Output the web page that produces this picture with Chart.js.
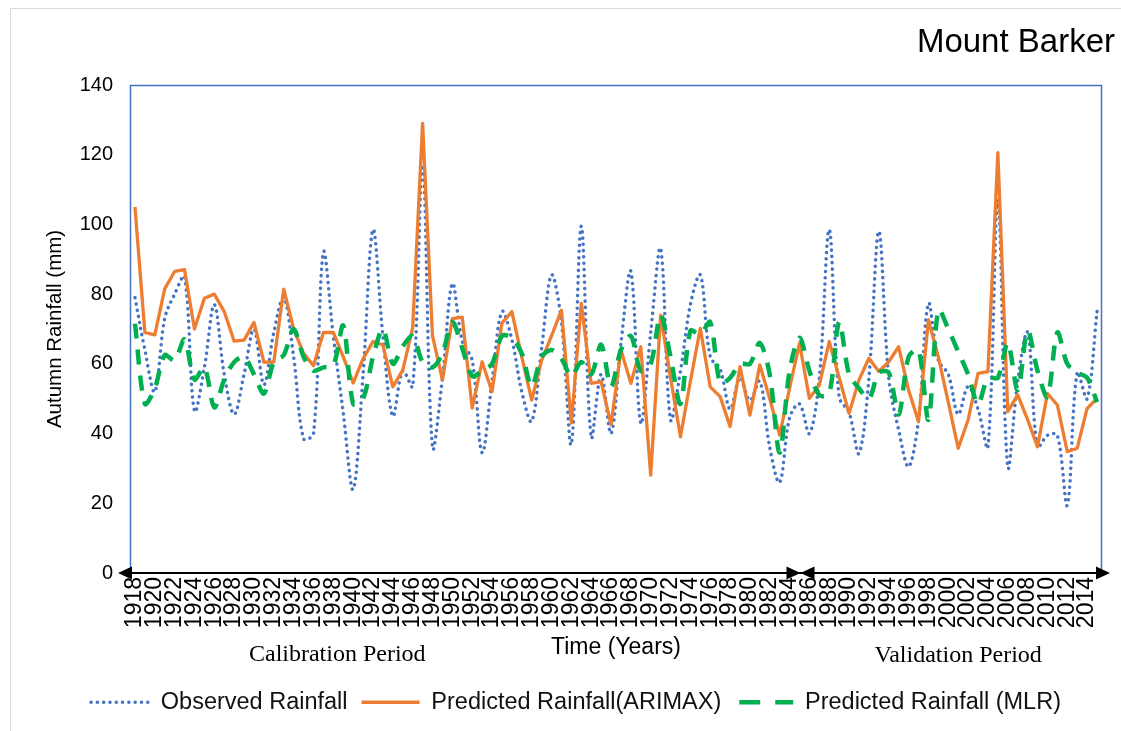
<!DOCTYPE html>
<html>
<head>
<meta charset="utf-8">
<title>Mount Barker</title>
<script src="https://cdn.jsdelivr.net/npm/chart.js@4.4.1/dist/chart.umd.min.js"></script>
<style>
  html, body { margin: 0; padding: 0; background: #fff; }
  #wrap { width: 1121px; height: 731px; position: relative; }
  canvas { display: block; }
</style>
</head>
<body>
<div id="wrap"><canvas id="c" width="1121" height="731"></canvas></div>
<script>
// Autumn rainfall at Mount Barker, 1918-2015
const years = [
  '1918','1919','1920','1921','1922','1923','1924','1925','1926','1927',
  '1928','1929','1930','1931','1932','1933','1934','1935','1936','1937',
  '1938','1939','1940','1941','1942','1943','1944','1945','1946','1947',
  '1948','1949','1950','1951','1952','1953','1954','1955','1956','1957',
  '1958','1959','1960','1961','1962','1963','1964','1965','1966','1967',
  '1968','1969','1970','1971','1972','1973','1974','1975','1976','1977',
  '1978','1979','1980','1981','1982','1983','1984','1985','1986','1987',
  '1988','1989','1990','1991','1992','1993','1994','1995','1996','1997',
  '1998','1999','2000','2001','2002','2003','2004','2005','2006','2007',
  '2008','2009','2010','2011','2012','2013','2014','2015'
];

// Observed autumn rainfall (mm)
const observed = [
  79, 64, 52, 73, 80, 85, 46.5, 59, 77, 57,
  45.5, 57, 70, 54, 69, 79, 62, 38.5, 40, 92,
  68, 46, 24, 57, 98.5, 68, 45, 58, 53.5, 117,
  36, 56, 83, 66.5, 61, 34.5, 55, 75, 67, 52,
  43.5, 64.5, 85.5, 72, 37, 99.5, 39, 57, 40, 66,
  86.5, 43, 69, 93, 44, 58, 77, 85.5, 62, 58.5,
  47, 56, 49.5, 55, 36, 26, 44.5, 48.5, 40, 56,
  98.5, 50.5, 46, 34.3, 56, 98, 56, 41, 30.5, 44,
  77.3, 61, 57, 45.5, 53.5, 47, 36.2, 107, 30.5, 55,
  69, 36.2, 39.5, 39.5, 19.5, 57.5, 50, 75
];

// ARIMAX model prediction (mm)
const arimax = [
  105, 69, 68.3, 81.5, 86.5, 87, 70, 78.8, 80, 75,
  66.5, 66.8, 71.9, 60.5, 60.5, 81.4, 70, 63, 59.5, 69,
  69, 62, 54.5, 61.5, 66.4, 65.4, 53.4, 58.2, 70.3, 129,
  68, 55.4, 73, 73.4, 47.3, 60.6, 52, 71.7, 75, 62,
  49.6, 61, 68, 75.4, 43, 77.4, 54.4, 54.9, 42.5, 64,
  54.4, 64.9, 28.1, 74, 56, 39.1, 55, 70.2, 53.4, 50.6,
  42, 59.2, 45.3, 59.7, 50, 39.6, 53, 65.9, 50.1, 53.9,
  66.4, 56, 45.8, 55.4, 61.6, 57.8, 60.6, 64.9, 52.5, 43.4,
  72.6, 62, 49, 35.8, 43.9, 57.3, 57.8, 120.6, 46.3, 51.1,
  44, 36.2, 51.5, 48.2, 34.8, 35.8, 47.2, 50.1
];

// MLR model prediction (mm)
const mlr = [
  71.5, 48.5, 53, 62.5, 61, 67, 55.5, 59, 47.5, 55.5,
  60.5, 62, 57, 51.5, 60.5, 62.5, 70, 62, 58, 59,
  59.5, 71, 48.5, 50, 62, 70, 60, 65, 68, 60.5,
  59, 63, 72, 64.5, 56.5, 58, 60, 68, 67.5, 63,
  53.5, 62, 64, 61.5, 56.5, 60.5, 57, 65.5, 53.5, 64,
  68, 58, 60, 74, 62, 48.5, 69.5, 68.5, 72, 54.5,
  56, 60, 60, 66, 57, 34.5, 58, 67.5, 58, 51,
  51.5, 72, 57, 53, 50, 57.5, 57.5, 45.5, 62, 64,
  44, 75.5, 70, 63.5, 57, 48.5, 56, 56, 66, 52.5,
  69.5, 58, 50.5, 69, 60, 57.5, 56, 49
];

const seriesNames = ['Observed Rainfall', 'Predicted Rainfall(ARIMAX)', 'Predicted Rainfall (MLR)'];
const chartTitle = 'Mount Barker';
const periodLabels = ['Calibration Period', 'Validation Period'];
const axisTitles = { x: 'Time (Years)', y: 'Autumn Rainfall (mm)' };

const SANS = '"Liberation Sans", Arial, Helvetica, sans-serif';
const SERIF = '"Liberation Serif", "Times New Roman", serif';

// Plot area bottom edge and outer padding
const PLOT_BOTTOM = 573;
const PAD_BOTTOM = 7;

// Dash patterns used for the legend samples
const legendDash = [[0.1, 6.2], [], [21, 15]];
const legendDashOffset = [0, 0, 32];

function arrowHead(ctx, tipX, y, dir) {
  ctx.beginPath();
  ctx.moveTo(tipX, y);
  ctx.lineTo(tipX - dir * 14, y - 6.5);
  ctx.lineTo(tipX - dir * 14, y + 6.5);
  ctx.closePath();
  ctx.fill();
}

// Frame, period arrows on the time axis and free-standing labels
const decor = {
  id: 'decor',
  afterLayout(chart) {
    const lg = chart.legend;
    if (lg) { lg.left += 25; lg.right += 25; }
  },
  beforeDraw(chart) {
    const ctx = chart.ctx;
    ctx.save();
    ctx.fillStyle = '#fff';
    ctx.fillRect(0, 0, chart.width, chart.height);
    ctx.strokeStyle = '#D9D9D9';
    ctx.lineWidth = 1;
    ctx.beginPath();
    ctx.moveTo(10.5, chart.height);
    ctx.lineTo(10.5, 8.5);
    ctx.lineTo(chart.width, 8.5);
    ctx.stroke();
    ctx.restore();
  },
  beforeDatasetsDraw(chart) {
    const ctx = chart.ctx, a = chart.chartArea;
    ctx.save();
    ctx.strokeStyle = '#4472C4';
    ctx.lineWidth = 1.5;
    ctx.beginPath();
    ctx.moveTo(a.left + 0.5, a.bottom);
    ctx.lineTo(a.left + 0.5, a.top + 0.5);
    ctx.lineTo(a.right - 0.5, a.top + 0.5);
    ctx.lineTo(a.right - 0.5, a.bottom);
    ctx.stroke();
    ctx.restore();
  },
  afterDatasetsDraw(chart) {
    const ctx = chart.ctx, a = chart.chartArea, xs = chart.scales.x;
    const y = a.bottom;
    const left = a.left - 12, right = a.right + 8;
    const split = xs.getPixelForValue(67) + 1;
    ctx.save();
    ctx.strokeStyle = '#000';
    ctx.fillStyle = '#000';
    ctx.lineWidth = 2;
    ctx.beginPath();
    ctx.moveTo(left + 4, y);
    ctx.lineTo(right - 4, y);
    ctx.stroke();
    arrowHead(ctx, left, y, -1);
    arrowHead(ctx, right, y, 1);
    arrowHead(ctx, split, y, 1);
    arrowHead(ctx, split, y, -1);
    ctx.restore();
  },
  afterDraw(chart) {
    const ctx = chart.ctx, a = chart.chartArea, xs = chart.scales.x;
    ctx.save();
    ctx.fillStyle = '#000';
    ctx.textBaseline = 'middle';
    ctx.font = '33px ' + SANS;
    ctx.textAlign = 'right';
    ctx.fillText(chartTitle, a.right + 13, 43);
    ctx.font = '24px ' + SERIF;
    ctx.textAlign = 'center';
    ctx.fillText(periodLabels[0], xs.getPixelForValue(20.4), 655);
    ctx.fillText(periodLabels[1], xs.getPixelForValue(83), 656);
    ctx.restore();
  }
};

new Chart(document.getElementById('c'), {
  type: 'line',
  data: {
    labels: years,
    datasets: [
      {
        label: seriesNames[0], data: observed,
        borderColor: '#4472C4', backgroundColor: '#4472C4',
        borderWidth: 3.5, borderDash: [0.1, 6.2], borderCapStyle: 'round',
        tension: 0.35, pointRadius: 0, fill: false, order: 3
      },
      {
        label: seriesNames[1], data: arimax,
        borderColor: '#ED7D31', backgroundColor: '#ED7D31',
        borderWidth: 3.3, borderJoinStyle: 'round',
        tension: 0, pointRadius: 0, fill: false, order: 2
      },
      {
        label: seriesNames[2], data: mlr,
        borderColor: '#00B050', backgroundColor: '#00B050',
        borderWidth: 4.5, borderDash: [15, 11],
        tension: 0.3, pointRadius: 0, fill: false, order: 1
      }
    ]
  },
  options: {
    responsive: false,
    animation: false,
    devicePixelRatio: 1,
    layout: { padding: { top: 85, left: 0, right: 19, bottom: PAD_BOTTOM } },
    plugins: {
      title: { display: false },
      tooltip: { enabled: false },
      legend: {
        position: 'bottom',
        labels: {
          usePointStyle: true, pointStyle: 'line', pointStyleWidth: 58,
          padding: 14, color: '#111',
          font: { family: SANS, size: 23.5 },
          sort: (a, b) => a.datasetIndex - b.datasetIndex,
          generateLabels(chart) {
            const items = Chart.defaults.plugins.legend.labels.generateLabels(chart);
            items.forEach(it => {
              const ds = chart.data.datasets[it.datasetIndex];
              it.lineDash = legendDash[it.datasetIndex];
              it.lineDashOffset = legendDashOffset[it.datasetIndex];
              it.lineCap = ds.borderCapStyle || 'butt';
              it.lineWidth = ds.borderWidth;
              it.strokeStyle = ds.borderColor;
              it.fillStyle = ds.borderColor;
            });
            return items;
          }
        }
      }
    },
    scales: {
      x: {
        type: 'category',
        offset: true,
        grid: { display: false, drawTicks: false },
        border: { display: false },
        ticks: {
          autoSkip: false, minRotation: 90, maxRotation: 90, padding: 4,
          color: '#000', font: { family: SANS, size: 23 },
          callback: function (v, i) { return i % 2 === 0 ? this.getLabelForValue(v) : ''; }
        },
        title: {
          display: true, text: axisTitles.x, color: '#000',
          font: { family: SANS, size: 23 }, padding: { top: 0, bottom: 15 }
        },
        afterFit: s => {
          const lgH = s.chart.legend ? s.chart.legend.height : 0;
          s.height = s.chart.height - PLOT_BOTTOM - PAD_BOTTOM - lgH;
          s.paddingLeft = 0;
          s.paddingRight = 0;
        }
      },
      y: {
        min: 0, max: 140,
        grid: { display: false, drawTicks: false },
        border: { display: false },
        ticks: { stepSize: 20, padding: 17, color: '#000', font: { family: SANS, size: 20 } },
        title: {
          display: true, text: axisTitles.y, color: '#000',
          font: { family: SANS, size: 20.5 }, padding: { top: 42.7, bottom: 0 }
        },
        afterFit: s => { s.width = 130; }
      }
    }
  },
  plugins: [decor]
});
</script>
</body>
</html>
